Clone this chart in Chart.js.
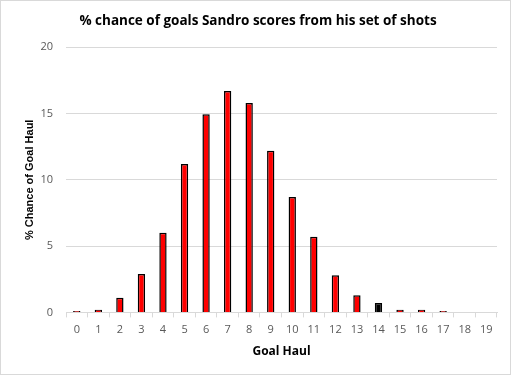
<!DOCTYPE html>
<html>
<head>
<meta charset="utf-8">
<script src="https://cdn.jsdelivr.net/npm/chart.js@4"></script>
<style>
  html, body { margin: 0; padding: 0; background: #fff; }
  #wrap { position: relative; width: 509px; height: 373px; border: 1px solid #d9d9d9; }
</style>
</head>
<body>
<div id="wrap"><canvas id="chart"></canvas></div>
<script>
// goal haul categories and % chance
var goalHaul = ['0','1','2','3','4','5','6','7','8','9','10','11','12','13','14','15','16','17','18','19'];
var chance = [0.1, 0.2, 1.1, 2.9, 6.0, 11.2, 14.95, 16.7, 15.8, 12.2, 8.7, 5.7, 2.8, 1.3, 0.7, 0.2, 0.2, 0.1, 0, 0];
var yTicks = [0, 5, 10, 15, 20];
var highlight = 14; // the black bar

var fills = goalHaul.map(function (g, i) { return i === highlight ? '#000000' : '#ff0000'; });

var ctx = document.getElementById('chart');
new Chart(ctx, {
    type: 'bar',
    data: {
        labels: goalHaul,
        datasets: [{
            label: '% Chance',
            data: chance,
            backgroundColor: fills,
            borderColor: '#000000',
            borderWidth: 1.5,
            borderSkipped: 'bottom',
            barPercentage: 0.34,
            categoryPercentage: 1
        }]
    },
    options: {
        responsive: true,
        maintainAspectRatio: false,
        animation: false,
        layout: { padding: { top: 6, right: 13, left: 18, bottom: 11 } },
        plugins: {
            legend: { display: false },
            tooltip: { enabled: false },
            title: {
                display: true,
                text: '% chance of goals Sandro scores from his set of shots',
                color: '#000',
                font: { family: 'Open Sans', size: 13.5, weight: 'bold' },
                padding: { top: 6, bottom: 18 }
            }
        },
        scales: {
            x: {
                grid: { display: true, drawOnChartArea: false, offset: true, color: '#d9d9d9', tickLength: 5 },
                border: { color: '#d9d9d9' },
                ticks: { color: '#595959', font: { family: 'Open Sans', size: 11 }, padding: 6, maxRotation: 0, autoSkip: false },
                title: {
                    display: true, text: 'Goal Haul', color: '#000',
                    font: { family: 'Open Sans', size: 12, weight: 'bold' }, padding: { top: 2 }
                }
            },
            y: {
                min: 0, max: 20,
                afterBuildTicks: function (axis) { axis.ticks = yTicks.map(function (v) { return { value: v }; }); },
                afterFit: function (axis) { axis.width = 47; },
                grid: { color: '#d9d9d9', drawTicks: false },
                border: { display: false },
                ticks: { color: '#595959', font: { family: 'Open Sans', size: 11 }, padding: 13 },
                title: {
                    display: true, text: '% Chance of Goal Haul', color: '#000',
                    font: { family: 'Liberation Sans', size: 11, weight: 'bold' }, padding: { top: 4, bottom: 3 }
                }
            }
        }
    }
});
</script>
</body>
</html>
